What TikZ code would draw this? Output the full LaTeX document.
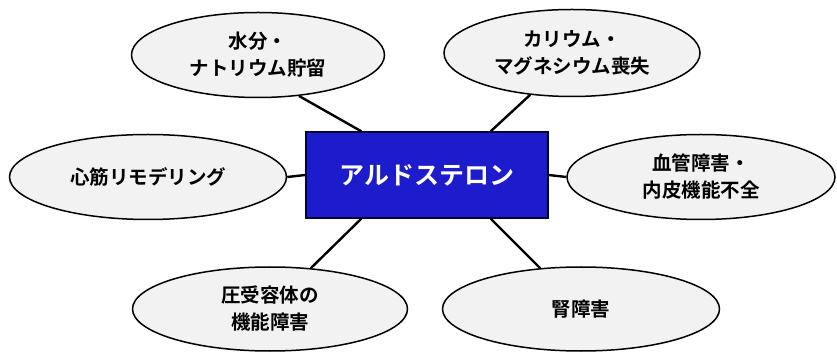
\documentclass[tikz,border=0pt]{standalone}
\usepackage{fontspec}
\newfontfamily\jpfont{Noto Sans CJK JP Bold}
\usetikzlibrary{shapes.geometric,calc}
\definecolor{boxblue}{RGB}{28,28,204}
\definecolor{ellfill}{RGB}{242,242,242}
\tikzset{
  effect/.style={ellipse, draw=black, line width=1.5pt, fill=ellfill, inner sep=0pt,
    align=center, font=\jpfont\fontsize{19.5}{27}\selectfont},
  centerbox/.style={rectangle, draw=black!80!blue, line width=1.4pt, fill=boxblue, inner sep=0pt,
    minimum width=242pt, minimum height=86pt, text=white, font=\jpfont\fontsize{25}{30}\selectfont},
  link/.style={draw=black, line width=2.4pt}
}
\begin{document}
\begin{tikzpicture}[x=1pt,y=-1pt]
\useasboundingbox (0,0) rectangle (837,352);
\node[centerbox] (ald) at (427,175) {アルドステロン};
\node[effect, minimum width=253pt, minimum height=85pt] (tl) at (258,55) {水分・\\ナトリウム貯留};
\node[effect, minimum width=256pt, minimum height=87pt] (tr) at (572,53) {カリウム・\\マグネシウム喪失};
\node[effect, minimum width=277pt, minimum height=85pt] (l) at (148,177) {心筋リモデリング};
\node[effect, minimum width=268pt, minimum height=85pt] (r) at (701,177) {血管障害・\\内皮機能不全};
\node[effect, minimum width=275pt, minimum height=84pt] (bl) at (270,309) {圧受容体の\\機能障害};
\node[effect, minimum width=277pt, minimum height=84pt] (br) at (581,309) {腎障害};
\draw[link] (tl.-45) -- ([xshift=56pt]ald.north west);
\draw[link] (tr.-135) -- ([xshift=-58pt]ald.north east);
\draw[link] (l.east) -- (ald.west);
\draw[link] (ald.east) -- (r.west);
\draw[link] ([xshift=56pt]ald.south west) -- (bl.45);
\draw[link] ([xshift=-58pt]ald.south east) -- (br.135);
\end{tikzpicture}
\end{document}
